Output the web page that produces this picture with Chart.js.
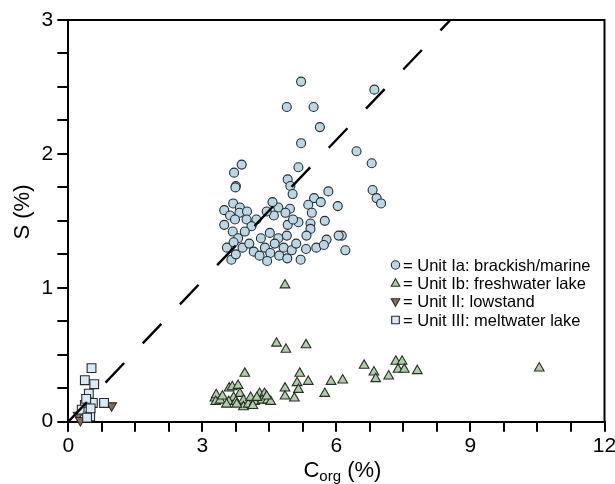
<!DOCTYPE html>
<html>
<head>
<meta charset="utf-8">
<script src="https://cdn.jsdelivr.net/npm/chart.js@4"></script>
<style>
  html, body { margin: 0; padding: 0; background: #fff; }
  #wrap { width: 615px; height: 484px; position: relative; }
</style>
</head>
<body>
<div id="wrap"><canvas id="csChart"></canvas></div>
<script>
// Unit Ia: brackish/marine (circles)
const unitIaC = [5.21, 4.89, 5.49, 5.63, 5.21, 6.85, 6.45, 6.79, 3.88, 3.71, 3.75, 3.74, 5.15, 4.91, 4.97, 5.02,
  5.82, 6.81, 6.90, 7.00, 6.03, 5.50, 5.37, 5.65, 5.45, 5.42, 5.74, 5.42, 5.33, 6.12, 5.78, 4.96, 4.70, 4.57,
  4.86, 4.60, 4.44, 5.15, 4.91, 5.03, 4.21, 3.49, 3.69, 3.84, 3.62, 3.83, 4.00, 3.99, 3.73, 3.49, 4.10, 3.68,
  3.95, 4.51, 4.89, 4.31, 4.70, 3.80, 3.65, 3.75, 3.55, 3.90, 4.05, 4.15, 4.28, 4.40, 4.52, 4.62, 4.72, 4.82,
  4.90, 5.00, 5.10, 5.20, 5.32, 5.55, 5.72, 6.05, 6.20, 3.70, 4.45];
const unitIaS = [2.54, 2.35, 2.35, 2.20, 2.08, 2.48, 2.02, 1.93, 1.92, 1.86, 1.76, 1.75, 1.90, 1.81, 1.76, 1.70,
  1.72, 1.73, 1.67, 1.63, 1.61, 1.67, 1.62, 1.64, 1.56, 1.48, 1.50, 1.44, 1.39, 1.39, 1.36, 1.59, 1.60, 1.64,
  1.56, 1.54, 1.57, 1.49, 1.47, 1.51, 1.51, 1.58, 1.63, 1.60, 1.54, 1.56, 1.57, 1.51, 1.51, 1.47, 1.46, 1.42,
  1.42, 1.41, 1.39, 1.37, 1.37, 1.37, 1.21, 1.25, 1.30, 1.30, 1.33, 1.27, 1.24, 1.30, 1.26, 1.33, 1.24, 1.30,
  1.22, 1.28, 1.33, 1.21, 1.29, 1.30, 1.32, 1.39, 1.28, 1.34, 1.20];

// Unit Ib: freshwater lake (triangles)
const unitIbC = [4.66, 4.87, 5.32, 3.95, 5.18, 5.37, 5.12, 5.15, 4.85, 4.85, 5.06, 5.88, 6.14, 5.74, 6.62, 6.84,
  6.88, 7.17, 7.33, 7.47, 7.38, 7.52, 7.81, 10.54, 4.85, 3.28, 3.31, 3.30, 3.40, 3.60, 3.67, 3.80, 3.84, 3.70,
  3.59, 3.75, 3.92, 3.92, 4.03, 4.08, 4.17, 4.28, 4.39, 4.34, 4.46, 4.53, 4.13, 3.54, 3.45, 3.77, 4.22, 4.44];
const unitIbS = [0.585, 0.54, 0.573, 0.36, 0.36, 0.30, 0.29, 0.24, 0.25, 0.19, 0.175, 0.30, 0.31, 0.21, 0.42, 0.37,
  0.32, 0.34, 0.45, 0.45, 0.39, 0.39, 0.38, 0.40, 1.02, 0.175, 0.20, 0.15, 0.16, 0.25, 0.26, 0.27, 0.21, 0.18,
  0.15, 0.15, 0.16, 0.11, 0.13, 0.18, 0.15, 0.21, 0.21, 0.16, 0.16, 0.15, 0.12, 0.13, 0.19, 0.13, 0.18, 0.19];

// Unit II: lowstand (inverted triangles)
const unitIIC = [0.22, 0.27, 0.97];
const unitIIS = [0.05, 0.01, 0.12];

// Unit III: meltwater lake (squares)
const unitIIIC = [0.52, 0.37, 0.58, 0.46, 0.55, 0.37, 0.30, 0.45, 0.49, 0.80, 0.40, 0.50, 0.42];
const unitIIIS = [0.40, 0.31, 0.28, 0.21, 0.14, 0.125, 0.09, 0.075, 0.04, 0.14, 0.17, 0.10, 0.03];

// dashed reference line (C/S ratio)
const refLineC = [0, 8.55];
const refLineS = [0, 3];

const xTickLabels = [0, 3, 6, 9, 12];
const yTickLabels = [0, 1, 2, 3];

const legendLabels = ['= Unit Ia: brackish/marine', '= Unit Ib: freshwater lake', '= Unit II: lowstand', '= Unit III: meltwater lake'];

const FONT = 'Liberation Sans, Arial, Helvetica, sans-serif';

function pairs(xs, ys) {
  return xs.map((x, i) => ({ x: x, y: ys[i] }));
}

function isLabelled(v, list) {
  return list.some(l => Math.abs(l - v) < 1e-6);
}

const series = [
  { label: legendLabels[0], style: 'circle', rot: 0, r: 4.5, fill: '#b8d8e8' },
  { label: legendLabels[1], style: 'triangle', rot: 0, r: 5.6, fill: '#aad2a0' },
  { label: legendLabels[2], style: 'triangle', rot: 180, r: 5.6, fill: '#8b6e4b' },
  { label: legendLabels[3], style: 'rect', rot: 0, r: 6.2, fill: '#d6eaf7' },
];

// frame, axis titles (with subscript) and the in-plot legend
const extras = {
  id: 'extras',
  afterDraw(chart) {
    const ctx = chart.ctx;
    const a = chart.chartArea;
    ctx.save();
    ctx.strokeStyle = '#000';
    ctx.lineWidth = 2;
    ctx.beginPath();
    ctx.moveTo(a.left, a.top);
    ctx.lineTo(a.right, a.top);
    ctx.lineTo(a.right, a.bottom);
    ctx.stroke();

    // y title
    ctx.fillStyle = '#000';
    ctx.font = '22px ' + FONT;
    ctx.textAlign = 'center';
    ctx.textBaseline = 'middle';
    ctx.translate(23, 212);
    ctx.rotate(-Math.PI / 2);
    ctx.fillText('S (%)', 0, 0);
    ctx.restore();

    // x title: C with subscript org
    ctx.save();
    ctx.fillStyle = '#000';
    ctx.textAlign = 'left';
    ctx.textBaseline = 'alphabetic';
    const big = '22px ' + FONT, small = '15px ' + FONT;
    ctx.font = big;
    const wC = ctx.measureText('C').width;
    const wP = ctx.measureText(' (%)').width;
    ctx.font = small;
    const wO = ctx.measureText('org').width;
    let x = (a.left + a.right) / 2 + 6 - (wC + wO + wP) / 2;
    const base = 477;
    ctx.font = big;
    ctx.fillText('C', x, base);
    x += wC;
    ctx.font = small;
    ctx.fillText('org', x, base + 4);
    x += wO;
    ctx.font = big;
    ctx.fillText(' (%)', x, base);

    // legend
    const rows = [265, 283.3, 301.7, 320];
    const sx = 395.5;
    series.forEach((s, i) => {
      const y = rows[i];
      ctx.fillStyle = s.fill;
      ctx.strokeStyle = '#2b2b2b';
      ctx.lineWidth = 1.1;
      ctx.beginPath();
      if (s.style === 'circle') {
        ctx.arc(sx, y, 4.2, 0, Math.PI * 2);
      } else if (s.style === 'rect') {
        ctx.rect(sx - 3.8, y - 3.8, 7.6, 7.6);
      } else {
        const d = s.rot ? -1 : 1;
        ctx.moveTo(sx, y - d * 4.6);
        ctx.lineTo(sx + 4.3, y + d * 3);
        ctx.lineTo(sx - 4.3, y + d * 3);
        ctx.closePath();
      }
      ctx.fill();
      ctx.stroke();
      ctx.fillStyle = '#000';
      ctx.font = '16.5px ' + FONT;
      ctx.fillText(s.label, 403, y + 5.5);
    });
    ctx.restore();
  }
};

const datasets = [
  {
    type: 'line',
    label: 'ref',
    data: pairs(refLineC, refLineS),
    borderColor: '#000',
    borderWidth: 2.4,
    borderDash: [27, 27],
    pointRadius: 0,
    fill: false,
    order: 0,
  },
];
const allC = [unitIaC, unitIbC, unitIIC, unitIIIC];
const allS = [unitIaS, unitIbS, unitIIS, unitIIIS];
series.forEach((s, i) => {
  datasets.push({
    type: 'scatter',
    label: s.label,
    data: pairs(allC[i], allS[i]),
    pointStyle: s.style,
    rotation: s.rot,
    pointRadius: s.r,
    pointHoverRadius: s.r,
    backgroundColor: s.fill,
    borderColor: '#2b2b2b',
    borderWidth: 1.1,
    clip: false,
    order: 4 - i,
  });
});

new Chart(document.getElementById('csChart'), {
  data: { datasets: datasets },
  plugins: [extras],
  options: {
    responsive: true,
    maintainAspectRatio: false,
    animation: false,
    layout: { padding: { top: 20, right: 10.5, left: 0, bottom: 0 } },
    plugins: { legend: { display: false }, tooltip: { enabled: false } },
    scales: {
      x: {
        type: 'linear',
        min: 0,
        max: 12,
        afterFit(scale) { scale.height = 62.3; scale.paddingLeft = 0; scale.paddingRight = 0; },
        border: { display: true, color: '#000', width: 2 },
        grid: { drawOnChartArea: false, drawTicks: true, tickLength: 10, color: '#000', lineWidth: 2 },
        ticks: {
          stepSize: 0.75,
          autoSkip: false,
          maxRotation: 0,
          padding: 2,
          color: '#000',
          font: { family: FONT, size: 21 },
          callback: v => isLabelled(v, xTickLabels) ? String(Math.round(v)) : '',
        },
      },
      y: {
        type: 'linear',
        min: 0,
        max: 3,
        afterFit(scale) { scale.width = 68.3; scale.paddingTop = 0; scale.paddingBottom = 0; },
        border: { display: true, color: '#000', width: 2 },
        grid: { drawOnChartArea: false, drawTicks: true, tickLength: 11, color: '#000', lineWidth: 2 },
        ticks: {
          stepSize: 0.25,
          autoSkip: false,
          padding: 4,
          color: '#000',
          font: { family: FONT, size: 21 },
          callback: v => isLabelled(v, yTickLabels) ? String(Math.round(v)) : '',
        },
      },
    },
  },
});
</script>
</body>
</html>
